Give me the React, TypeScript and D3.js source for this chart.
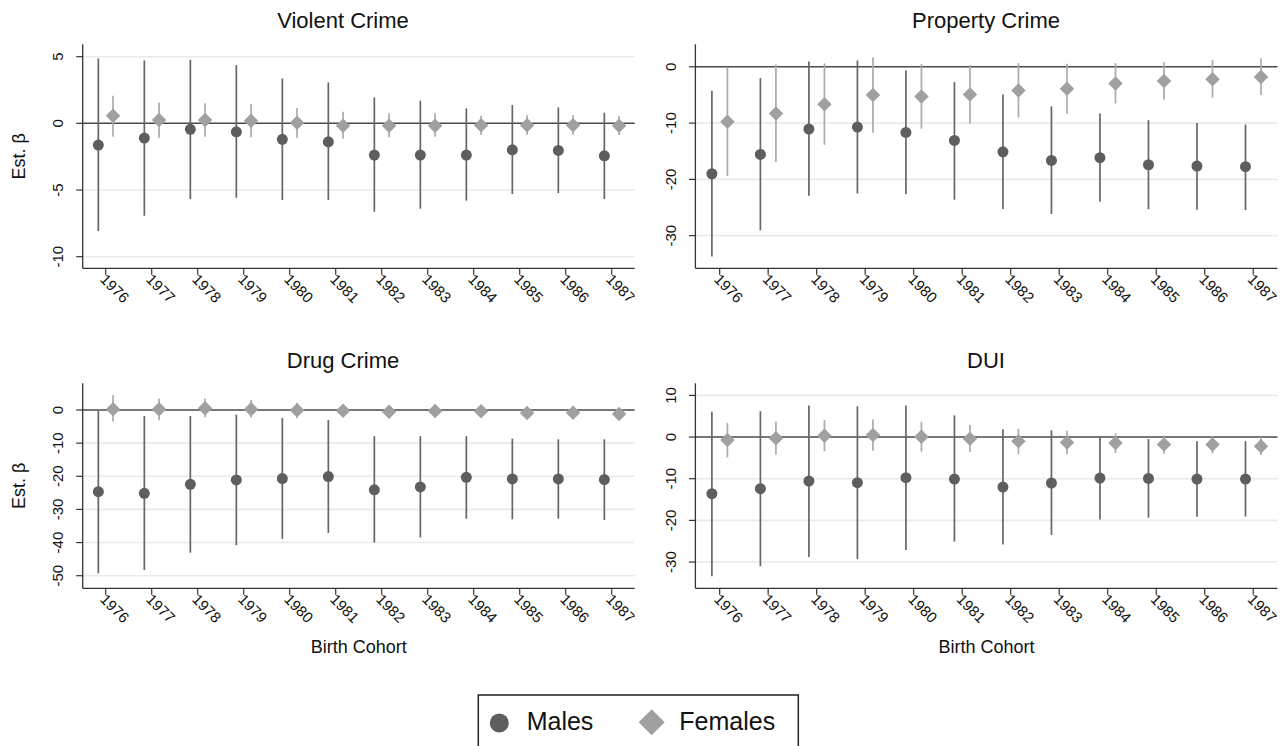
import React from "react";
import * as d3 from "d3";

// Birth cohorts on the x axis
const cohorts = [1976, 1977, 1978, 1979, 1980, 1981, 1982, 1983, 1984, 1985, 1986, 1987];

// Each row: [estimate, lower CI bound, upper CI bound], one row per cohort
const violentMales = [
  [-1.63, -8.08, 4.87], [-1.1, -6.93, 4.72], [-0.45, -5.68, 4.77], [-0.63, -5.58, 4.37],
  [-1.2, -5.75, 3.37], [-1.38, -5.75, 3.07], [-2.38, -6.63, 1.95], [-2.38, -6.4, 1.7],
  [-2.38, -5.8, 1.12], [-1.98, -5.3, 1.37], [-2.03, -5.23, 1.2], [-2.43, -5.68, 0.8],
];
const violentFemales = [
  [0.57, -1.0, 2.07], [0.25, -1.08, 1.57], [0.25, -1.0, 1.5], [0.2, -1.05, 1.45],
  [0.05, -1.08, 1.15], [-0.18, -1.13, 0.88], [-0.18, -1.05, 0.75], [-0.18, -1.0, 0.75],
  [-0.15, -0.88, 0.58], [-0.15, -0.85, 0.6], [-0.15, -0.85, 0.6], [-0.18, -0.88, 0.55],
];

const propertyMales = [
  [-19.0, -33.7, -4.26], [-15.56, -29.05, -2.0], [-11.07, -22.9, 0.95], [-10.7, -22.5, 1.12],
  [-11.66, -22.66, -0.65], [-13.08, -23.6, -2.72], [-15.1, -25.27, -4.9], [-16.63, -26.15, -7.04],
  [-16.15, -23.96, -8.28], [-17.4, -25.3, -9.47], [-17.63, -25.4, -10.0], [-17.75, -25.44, -10.24],
];
const propertyFemales = [
  [-9.76, -19.4, -0.18], [-8.28, -16.9, 0.41], [-6.63, -13.85, 0.6], [-5.03, -11.7, 1.72],
  [-5.27, -11.0, 0.47], [-4.9, -10.06, 0.36], [-4.2, -9.0, 0.65], [-3.9, -8.34, 0.53],
  [-2.96, -6.5, 0.65], [-2.54, -5.86, 0.83], [-2.19, -5.5, 1.18], [-1.83, -5.03, 1.54],
];

const drugMales = [
  [-24.65, -49.3, -0.2], [-25.15, -48.3, -1.8], [-22.43, -43.06, -1.8], [-21.1, -40.8, -1.4],
  [-20.7, -38.9, -2.4], [-20.1, -37.1, -3.0], [-24.1, -40.0, -7.9], [-23.2, -38.5, -7.9],
  [-20.3, -32.8, -7.9], [-20.8, -33.0, -8.65], [-20.8, -32.8, -8.85], [-21.0, -33.2, -8.85],
];
const drugFemales = [
  [0.2, -3.5, 4.5], [0.2, -3.1, 3.5], [0.5, -2.2, 3.5], [0.2, -2.3, 3.0],
  [-0.1, -2.5, 2.2], [-0.2, -2.0, 1.5], [-0.5, -2.2, 1.0], [-0.3, -1.8, 1.2],
  [-0.4, -1.8, 1.0], [-0.9, -2.2, 0.3], [-0.8, -2.2, 0.5], [-1.2, -2.6, 0.0],
];

const duiMales = [
  [-13.6, -33.4, 6.1], [-12.4, -31.0, 6.2], [-10.56, -28.8, 7.6], [-10.96, -29.3, 7.4],
  [-9.76, -27.1, 7.6], [-10.08, -25.1, 5.2], [-12.0, -25.8, 1.9], [-11.04, -23.5, 1.6],
  [-9.84, -19.76, 0.0], [-9.92, -19.36, -0.5], [-10.08, -19.1, -1.0], [-10.08, -19.1, -1.0],
];
const duiFemales = [
  [-0.7, -4.9, 3.4], [-0.3, -4.2, 3.7], [0.3, -3.4, 4.1], [0.5, -3.3, 4.2],
  [0.1, -3.5, 3.6], [-0.4, -3.6, 2.9], [-1.0, -4.1, 2.0], [-1.3, -4.1, 1.5],
  [-1.4, -3.8, 0.9], [-1.8, -4.0, 0.4], [-1.8, -3.9, 0.3], [-2.2, -4.3, 0.0],
];

// y-axis ticks and ranges per panel
const violentTicks = [5, 0, -5, -10];
const propertyTicks = [0, -10, -20, -30];
const drugTicks = [0, -10, -20, -30, -40, -50];
const duiTicks = [10, 0, -10, -20, -30];

const violentRange = [-10.87, 5.93];
const propertyRange = [-35.8, 4.0];
const drugRange = [-53.8, 8.05];
const duiRange = [-36.3, 12.9];

const titles = ["Violent Crime", "Property Crime", "Drug Crime", "DUI"];
const legendLabels = ["Males", "Females"];
const xTitle = "Birth Cohort";
const yTitle = "Est. \u03b2";

const FONT = "'Liberation Sans', Arial, Helvetica, sans-serif";
const MALE = "#5e5e5e";
const MALE_LINE = "#666666";
const FEMALE = "#a0a0a0";
const FEMALE_LINE = "#ababab";
const AXIS = "#333333";
const GRID = "#eaeaea";

type Row = number[];

interface PanelProps {
  id: string;
  title: string;
  males: Row[];
  females: Row[];
  ticks: number[];
  range: number[];
  left: number;
  right: number;
  top: number;
  bottom: number;
  titleX: number;
  titleY: number;
  showYTitle: boolean;
  showXTitle: boolean;
}

// square rotated 45 degrees, sized by its full width
function diamondPath(w: number) {
  const side = w / Math.SQRT2;
  return d3.symbol().type(d3.symbolSquare).size(side * side)();
}

function Panel(p: PanelProps) {
  const x = d3.scaleLinear().domain([1975.5, 1987.5]).range([p.left, p.right]);
  const y = d3.scaleLinear().domain(p.range).range([p.bottom, p.top]);
  const off = 0.16;
  const diamond = diamondPath(14.5);
  const clipId = `clip-${p.id}`;

  return (
    <g>
      <defs>
        <clipPath id={clipId}>
          <rect x={0} y={p.top - 60} width={p.right} height={p.bottom - p.top + 160} />
        </clipPath>
      </defs>
      <text x={p.titleX} y={p.titleY} fontSize={22} textAnchor="middle" fill="#111">
        {p.title}
      </text>
      {/* grid lines */}
      {p.ticks.filter((t) => t !== 0).map((t) => (
        <line key={`g${t}`} x1={p.left} x2={p.right} y1={y(t)} y2={y(t)} stroke={GRID} strokeWidth={1.6} />
      ))}
      {/* zero reference */}
      <line x1={p.left} x2={p.right} y1={y(0)} y2={y(0)} stroke="#4a4a4a" strokeWidth={1.5} />
      {/* y axis */}
      <line x1={p.left} x2={p.left} y1={p.top} y2={p.bottom} stroke={AXIS} strokeWidth={1.3} />
      {p.ticks.map((t) => (
        <g key={`yt${t}`}>
          <line x1={p.left - 6.5} x2={p.left} y1={y(t)} y2={y(t)} stroke={AXIS} strokeWidth={1.2} />
          <text
            transform={`translate(${p.left - 19.5},${y(t)}) rotate(-90)`}
            fontSize={15}
            textAnchor="middle"
            fill="#111"
          >
            {t}
          </text>
        </g>
      ))}
      {/* x axis */}
      <line x1={p.left} x2={p.right} y1={p.bottom} y2={p.bottom} stroke={AXIS} strokeWidth={1.3} />
      <g clipPath={`url(#${clipId})`}>
        {cohorts.map((c) => (
          <g key={`xt${c}`}>
            <line x1={x(c)} x2={x(c)} y1={p.bottom} y2={p.bottom + 6.5} stroke={AXIS} strokeWidth={1.2} />
            <text
              transform={`translate(${x(c) - 6.5},${p.bottom + 12}) rotate(45)`}
              fontSize={15}
              fill="#111"
            >
              {c}
            </text>
          </g>
        ))}
      </g>
      {/* confidence intervals */}
      {p.males.map((r, i) => (
        <line key={`mc${i}`} x1={x(cohorts[i] - off)} x2={x(cohorts[i] - off)} y1={y(r[1])} y2={y(r[2])} stroke={MALE_LINE} strokeWidth={1.7} />
      ))}
      {p.females.map((r, i) => (
        <line key={`fc${i}`} x1={x(cohorts[i] + off)} x2={x(cohorts[i] + off)} y1={y(r[1])} y2={y(r[2])} stroke={FEMALE_LINE} strokeWidth={1.7} />
      ))}
      {/* point estimates */}
      {p.males.map((r, i) => (
        <circle key={`mp${i}`} cx={x(cohorts[i] - off)} cy={y(r[0])} r={5.5} fill={MALE} />
      ))}
      {p.females.map((r, i) => (
        <path key={`fp${i}`} d={diamond} transform={`translate(${x(cohorts[i] + off)},${y(r[0])}) rotate(45)`} fill={FEMALE} />
      ))}
      {p.showYTitle && (
        <text
          transform={`translate(25,${(p.top + p.bottom) / 2}) rotate(-90)`}
          fontSize={18}
          textAnchor="middle"
          fill="#111"
        >
          {yTitle}
        </text>
      )}
      {p.showXTitle && (
        <text x={(p.left + p.right) / 2} y={653.3} fontSize={18} textAnchor="middle" fill="#111">
          {xTitle}
        </text>
      )}
    </g>
  );
}

export default function App() {
  const width = 1281;
  const height = 746;
  const diamondBig = diamondPath(26);
  const L = { left: 82.7, right: 634.7 };
  const R = { left: 695.4, right: 1277.5 };
  const T = { top: 44.3, bottom: 268.3 };
  const B = { top: 383.3, bottom: 588.3 };

  return (
    <svg
      width={width}
      height={height}
      style={{ position: "absolute", left: 0, top: 0, background: "#fff" }}
      fontFamily={FONT}
    >
      <rect width={width} height={height} fill="#fff" />
      <Panel id="v" title={titles[0]} males={violentMales} females={violentFemales} ticks={violentTicks}
        range={violentRange} {...L} {...T} titleX={343} titleY={28.3} showYTitle showXTitle={false} />
      <Panel id="p" title={titles[1]} males={propertyMales} females={propertyFemales} ticks={propertyTicks}
        range={propertyRange} {...R} {...T} titleX={986} titleY={28.3} showYTitle={false} showXTitle={false} />
      <Panel id="d" title={titles[2]} males={drugMales} females={drugFemales} ticks={drugTicks}
        range={drugRange} {...L} {...B} titleX={343} titleY={368} showYTitle showXTitle />
      <Panel id="u" title={titles[3]} males={duiMales} females={duiFemales} ticks={duiTicks}
        range={duiRange} {...R} {...B} titleX={986} titleY={368} showYTitle={false} showXTitle />

      {/* legend */}
      <rect x={478.3} y={695} width={320} height={80} fill="#fff" stroke="#222" strokeWidth={1.5} />
      <circle cx={499.3} cy={723} r={9.5} fill={MALE} />
      <text x={526.7} y={730} fontSize={25} fill="#111">{legendLabels[0]}</text>
      <path d={diamondBig} transform="translate(651.7,722.3) rotate(45)" fill={FEMALE} />
      <text x={679.3} y={730} fontSize={25} fill="#111">{legendLabels[1]}</text>
    </svg>
  );
}
